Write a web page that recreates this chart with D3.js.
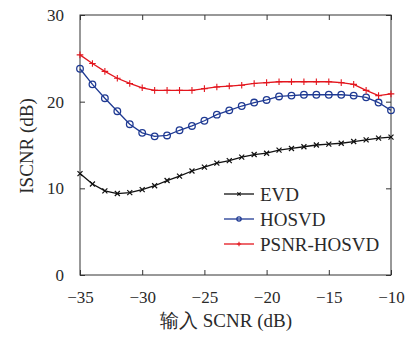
<!DOCTYPE html>
<html>
<head>
<meta charset="utf-8">
<script src="https://cdn.jsdelivr.net/npm/d3@7"></script>
<style>
  body { margin: 0; background: #fff; }
  text { font-family: "Liberation Serif", "DejaVu Serif", serif; fill: #2a2a2a; }
</style>
</head>
<body>
<svg id="chart" width="406" height="338"></svg>
<script>
const snr = d3.range(-35, -9, 1);
const evd = [11.7, 10.5, 9.7, 9.4, 9.5, 9.85, 10.3, 10.9, 11.4, 12.0, 12.45, 12.9, 13.2, 13.6, 13.9, 14.05, 14.4, 14.6, 14.8, 15.0, 15.1, 15.2, 15.4, 15.6, 15.8, 15.9];
const hosvd = [23.8, 22.0, 20.4, 18.9, 17.4, 16.4, 16.0, 16.1, 16.7, 17.2, 17.8, 18.5, 19.0, 19.5, 19.9, 20.2, 20.6, 20.7, 20.8, 20.8, 20.8, 20.8, 20.7, 20.5, 19.9, 19.0];
const psnrHosvd = [25.4, 24.4, 23.5, 22.7, 22.1, 21.6, 21.3, 21.3, 21.3, 21.3, 21.5, 21.7, 21.8, 21.9, 22.1, 22.2, 22.3, 22.3, 22.3, 22.3, 22.3, 22.2, 22.0, 21.3, 20.7, 20.9];
const xTicks = [-35, -30, -25, -20, -15, -10];
const yTicks = [0, 10, 20, 30];

const series = [
    {name: 'EVD', values: evd, color: '#111111', marker: 'x'},
    {name: 'HOSVD', values: hosvd, color: '#1f3a93', marker: 'o'},
    {name: 'PSNR-HOSVD', values: psnrHosvd, color: '#e3161e', marker: '+'}
];

const svg = d3.select('#chart');
const plotLeft = 80, plotRight = 391, plotTop = 15, plotBottom = 275;

const x = d3.scaleLinear().domain([-35, -10]).range([plotLeft, plotRight]);
const y = d3.scaleLinear().domain([0, 30]).range([plotBottom, plotTop]);

// ticks inward on all four sides
svg.append('g').attr('transform', `translate(0,${plotBottom})`)
    .call(d3.axisBottom(x).tickValues(xTicks).tickSizeInner(-5).tickSizeOuter(0).tickPadding(16).tickFormat(d => d < 0 ? '\u2212' + Math.abs(d) : d))
    .call(g => g.select('.domain').remove());
svg.append('g').attr('transform', `translate(0,${plotTop})`)
    .call(d3.axisTop(x).tickValues(xTicks).tickSizeInner(-5).tickSizeOuter(0).tickFormat(''))
    .call(g => g.select('.domain').remove());
svg.append('g').attr('transform', `translate(${plotLeft},0)`)
    .call(d3.axisLeft(y).tickValues(yTicks).tickSizeInner(-5).tickSizeOuter(0).tickPadding(16))
    .call(g => g.select('.domain').remove());
svg.append('g').attr('transform', `translate(${plotRight},0)`)
    .call(d3.axisRight(y).tickValues(yTicks).tickSizeInner(-5).tickSizeOuter(0).tickFormat(''))
    .call(g => g.select('.domain').remove());

svg.selectAll('.tick line').attr('stroke', '#333');
svg.selectAll('.tick text').attr('font-size', 17).attr('font-family', '"Liberation Serif", serif').attr('fill', '#2a2a2a');

svg.append('rect')
    .attr('x', plotLeft).attr('y', plotTop)
    .attr('width', plotRight - plotLeft).attr('height', plotBottom - plotTop)
    .attr('fill', 'none').attr('stroke', '#333').attr('stroke-width', 1);

function drawMarker(g, cx, cy, type, color, k = 1) {
    if (type === 'o') {
        g.append('circle').attr('cx', cx).attr('cy', cy).attr('r', 3.3 * k)
            .attr('fill', 'none').attr('stroke', color).attr('stroke-width', 1.3);
    } else if (type === 'x') {
        const s = 2.5 * k;
        g.append('path').attr('d', `M${cx - s},${cy - s}L${cx + s},${cy + s}M${cx - s},${cy + s}L${cx + s},${cy - s}`)
            .attr('stroke', color).attr('stroke-width', 1.2);
    } else {
        const s = 3.3 * k;
        g.append('path').attr('d', `M${cx - s},${cy}L${cx + s},${cy}M${cx},${cy - s}L${cx},${cy + s}`)
            .attr('stroke', color).attr('stroke-width', 1.1);
    }
}

const line = d3.line().x((d, i) => x(snr[i])).y(d => y(d));

series.forEach(s => {
    const g = svg.append('g');
    g.append('path').datum(s.values).attr('d', line)
        .attr('fill', 'none').attr('stroke', s.color).attr('stroke-width', 1.3);
    s.values.forEach((v, i) => drawMarker(g, x(snr[i]), y(v), s.marker, s.color));
});

// legend
const legend = svg.append('g');
series.forEach((s, i) => {
    const ly = 194 + i * 25;
    legend.append('line').attr('x1', 224).attr('x2', 254).attr('y1', ly).attr('y2', ly)
        .attr('stroke', s.color).attr('stroke-width', 1.3);
    drawMarker(legend, 239, ly, s.marker, s.color, 0.65);
    legend.append('text').attr('x', 260).attr('y', ly + 6.5).attr('font-size', 19).text(s.name);
});

svg.append('text')
    .attr('transform', 'translate(33,146) rotate(-90)')
    .attr('text-anchor', 'middle').attr('font-size', 19)
    .text('ISCNR (dB)');

svg.append('text')
    .attr('x', 226).attr('y', 327)
    .attr('text-anchor', 'middle').attr('font-size', 19)
    .attr('font-family', '"Liberation Serif", "Noto Sans CJK SC", serif')
    .text('输入 SCNR (dB)');
</script>
</body>
</html>
